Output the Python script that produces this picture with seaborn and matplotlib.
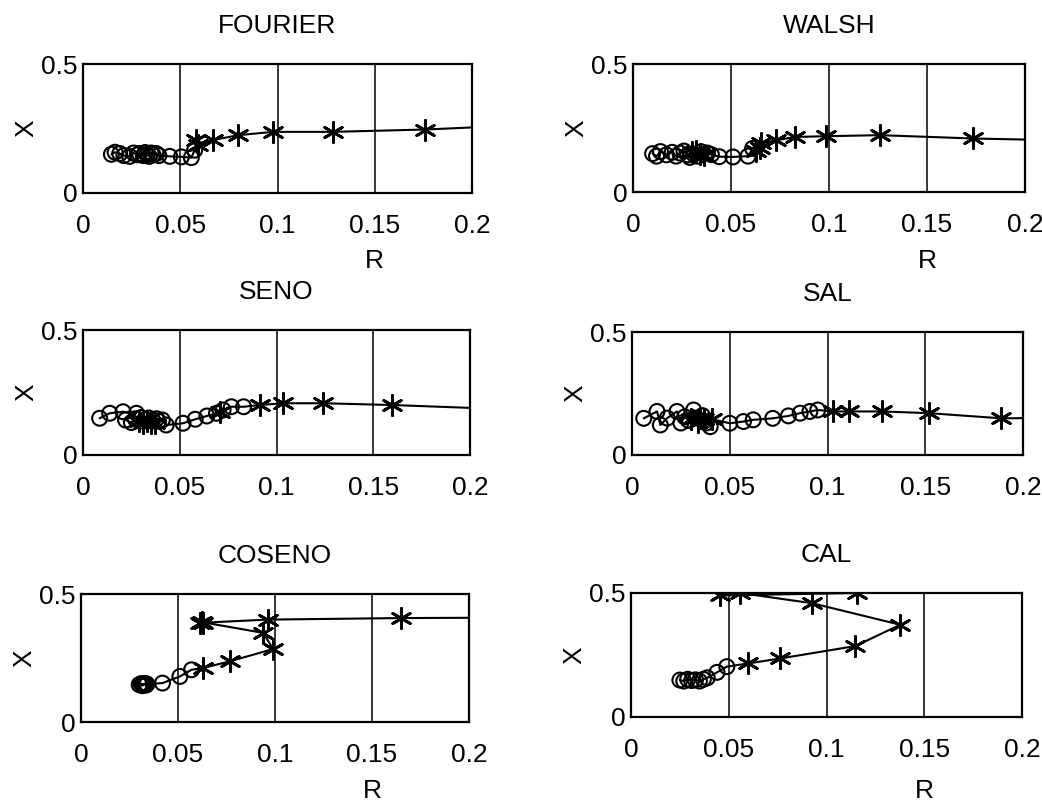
import numpy as np
import pandas as pd
import matplotlib
matplotlib.use("Agg")
import matplotlib.pyplot as plt
import seaborn as sns

# ---------------- data ----------------
titles = ["FOURIER", "WALSH", "SENO", "SAL", "COSENO", "CAL"]
x_ticks = [0, 0.05, 0.1, 0.15, 0.2]
x_tick_labels = ["0", "0.05", "0.1", "0.15", "0.2"]
y_ticks = [0, 0.5]
y_tick_labels = ["0", "0.5"]

# kind: "o" = circle sample, "*" = asterisk sample
fourier_R = [0.0146, 0.0165, 0.0189, 0.021, 0.024, 0.026, 0.028, 0.029, 0.031, 0.032,
             0.033, 0.034, 0.035, 0.036, 0.0377, 0.039, 0.0446, 0.0506, 0.0557, 0.0574,
             0.0583, 0.0590, 0.0668, 0.0797, 0.0977, 0.1285, 0.1757, 0.23]
fourier_X = [0.150, 0.158, 0.153, 0.145, 0.142, 0.155, 0.148, 0.153, 0.145, 0.157,
             0.150, 0.142, 0.155, 0.148, 0.153, 0.145, 0.142, 0.140, 0.137, 0.166,
             0.205, 0.185, 0.205, 0.224, 0.237, 0.237, 0.246, 0.264]
fourier_K = ["o"] * 20 + ["*"] * 8

walsh_R = [0.010, 0.012, 0.014, 0.017, 0.020, 0.022, 0.024, 0.026, 0.028, 0.029,
           0.030, 0.031, 0.032, 0.033, 0.034, 0.035, 0.036, 0.038, 0.040, 0.044,
           0.051, 0.0587, 0.061,
           0.0630, 0.0647, 0.0655, 0.073, 0.0826, 0.0987, 0.126, 0.1736, 0.23]
walsh_X = [0.150, 0.140, 0.158, 0.145, 0.155, 0.140, 0.152, 0.160, 0.145, 0.135,
           0.155, 0.148, 0.162, 0.140, 0.150, 0.157, 0.143, 0.152, 0.146, 0.138,
           0.137, 0.140, 0.170,
           0.160, 0.170, 0.190, 0.202, 0.215, 0.218, 0.222, 0.209, 0.200]
walsh_K = ["o"] * 10 + ["*", "o", "*", "o", "*", "o", "*", "o"] + ["o"] * 5 + ["*"] * 9

seno_R = [0.0086, 0.0138, 0.0207, 0.0276, 0.022, 0.025, 0.027, 0.029, 0.030, 0.031,
          0.032, 0.033, 0.034, 0.035, 0.036, 0.037, 0.038, 0.039, 0.041, 0.043,
          0.0517, 0.058, 0.064, 0.069, 0.0707, 0.0724, 0.0767, 0.083,
          0.0914, 0.1034, 0.124, 0.1595, 0.23]
seno_X = [0.147, 0.167, 0.173, 0.167, 0.140, 0.130, 0.145, 0.135, 0.150, 0.128,
          0.142, 0.135, 0.148, 0.130, 0.140, 0.128, 0.145, 0.135, 0.140, 0.120,
          0.127, 0.143, 0.156, 0.167, 0.173, 0.180, 0.193, 0.193,
          0.200, 0.207, 0.207, 0.200, 0.180]
seno_K = ["o"] * 7 + ["*", "o", "*", "o", "*", "o", "*", "o", "*"] + ["o"] * 8 + ["*", "o", "o", "o"] + ["*"] * 5

sal_R = [0.006, 0.0128, 0.0145, 0.018, 0.023, 0.025, 0.027, 0.029, 0.030, 0.0315,
         0.033, 0.034, 0.035, 0.036, 0.037, 0.038, 0.040, 0.041, 0.050, 0.057,
         0.062, 0.072, 0.080, 0.086, 0.091, 0.095,
         0.103, 0.111, 0.128, 0.152, 0.189, 0.23]
sal_X = [0.149, 0.177, 0.122, 0.150, 0.177, 0.130, 0.155, 0.140, 0.145, 0.183,
         0.150, 0.135, 0.150, 0.160, 0.145, 0.130, 0.115, 0.145, 0.129, 0.136,
         0.143, 0.149, 0.159, 0.170, 0.177, 0.183,
         0.177, 0.177, 0.177, 0.170, 0.149, 0.152]
sal_K = ["o"] * 8 + ["*", "o", "o", "*", "*", "o", "*", "o", "o", "*"] + ["o"] * 8 + ["*"] * 6

coseno_R = [0.030, 0.031, 0.0315, 0.032, 0.0325, 0.033, 0.0335, 0.034, 0.042, 0.051, 0.057,
            0.063, 0.0767, 0.099, 0.094, 0.0625, 0.0615, 0.063, 0.0965, 0.165, 0.30]
coseno_X = [0.146, 0.150, 0.142, 0.148, 0.145, 0.151, 0.144, 0.148, 0.152, 0.178, 0.204,
            0.211, 0.237, 0.285, 0.348, 0.390, 0.385, 0.388, 0.400, 0.406, 0.410]
coseno_K = ["o"] * 11 + ["*"] * 10

cal_R = [0.025, 0.027, 0.029, 0.031, 0.033, 0.035, 0.037, 0.039, 0.044, 0.049,
         0.060, 0.0763, 0.1147, 0.1377, 0.0925, 0.0558, 0.0456, 0.1155]
cal_X = [0.149, 0.145, 0.152, 0.147, 0.150, 0.145, 0.152, 0.158, 0.180, 0.203,
         0.216, 0.236, 0.286, 0.372, 0.459, 0.500, 0.490, 0.500]
cal_K = ["o"] * 10 + ["*"] * 8

series_R = [fourier_R, walsh_R, seno_R, sal_R, coseno_R, cal_R]
series_X = [fourier_X, walsh_X, seno_X, sal_X, coseno_X, cal_X]
series_K = [fourier_K, walsh_K, seno_K, sal_K, coseno_K, cal_K]

# ---------------- figure ----------------
sns.set_style("white")
plt.rcParams["font.family"] = ["Liberation Sans", "DejaVu Sans"]
plt.rcParams["text.color"] = "black"
plt.rcParams["axes.labelcolor"] = "black"
plt.rcParams["xtick.color"] = "black"
plt.rcParams["ytick.color"] = "black"

W, H = 1042, 801
fig = plt.figure(figsize=(W / 100, H / 100), dpi=100)

# axes boxes in pixels: left, right, top, bottom
boxes = [(83, 472, 64, 193), (633, 1025, 64, 192),
         (83, 470, 330, 455), (632, 1023, 332, 455),
         (81, 469, 594, 722), (631, 1022, 593, 717)]
show_xlabel = [True, True, False, False, True, True]
xlabel_y_px = [261, 261, None, None, 791, 791]

FS = 19
for i, (l, r, t, b) in enumerate(boxes):
    ax = fig.add_axes([l / W, (H - b) / H, (r - l) / W, (b - t) / H])
    df = pd.DataFrame({"R": series_R[i], "X": series_X[i], "K": series_K[i]})
    sns.lineplot(data=df, x="R", y="X", sort=False, estimator=None, ax=ax,
                 color="black", linewidth=1.5, zorder=3)
    circ = df[df["K"] == "o"]
    star = df[df["K"] == "*"]
    sns.scatterplot(data=circ, x="R", y="X", ax=ax, marker="o", s=115,
                    facecolor="none", edgecolor="black", linewidth=1.5, zorder=4)
    sns.scatterplot(data=star, x="R", y="X", ax=ax, marker=(6, 2, 0), s=210,
                    color="black", linewidth=2.0, zorder=5)
    ax.set_xlim(0, 0.2)
    ax.set_ylim(0, 0.5)
    ax.set_xticks(x_ticks)
    ax.set_xticklabels(x_tick_labels)
    ax.set_yticks(y_ticks)
    ax.set_yticklabels(y_tick_labels)
    for xv in x_ticks[1:-1]:
        ax.axvline(xv, color="black", linewidth=1.1, zorder=1)
    ax.tick_params(axis="x", direction="in", length=4, pad=15, labelsize=FS, width=1,
                   colors="black")
    ax.tick_params(axis="y", direction="in", length=4, pad=4, labelsize=FS, width=1,
                   colors="black")
    for sp in ax.spines.values():
        sp.set_linewidth(1.6)
        sp.set_color("black")
        sp.set_zorder(6)
    ax.set_title(titles[i], fontsize=FS, pad=22, color="black")
    ax.set_ylabel("X", fontsize=FS, labelpad=2, color="black")
    if show_xlabel[i]:
        ax.set_xlabel("R", fontsize=FS, color="black")
        ylab = (b - xlabel_y_px[i]) / (b - t)
        ax.xaxis.set_label_coords(0.75, ylab)
        ax.xaxis.label.set_va("center")
    else:
        ax.set_xlabel("")

fig.savefig("out.png", dpi=100, facecolor="white")
